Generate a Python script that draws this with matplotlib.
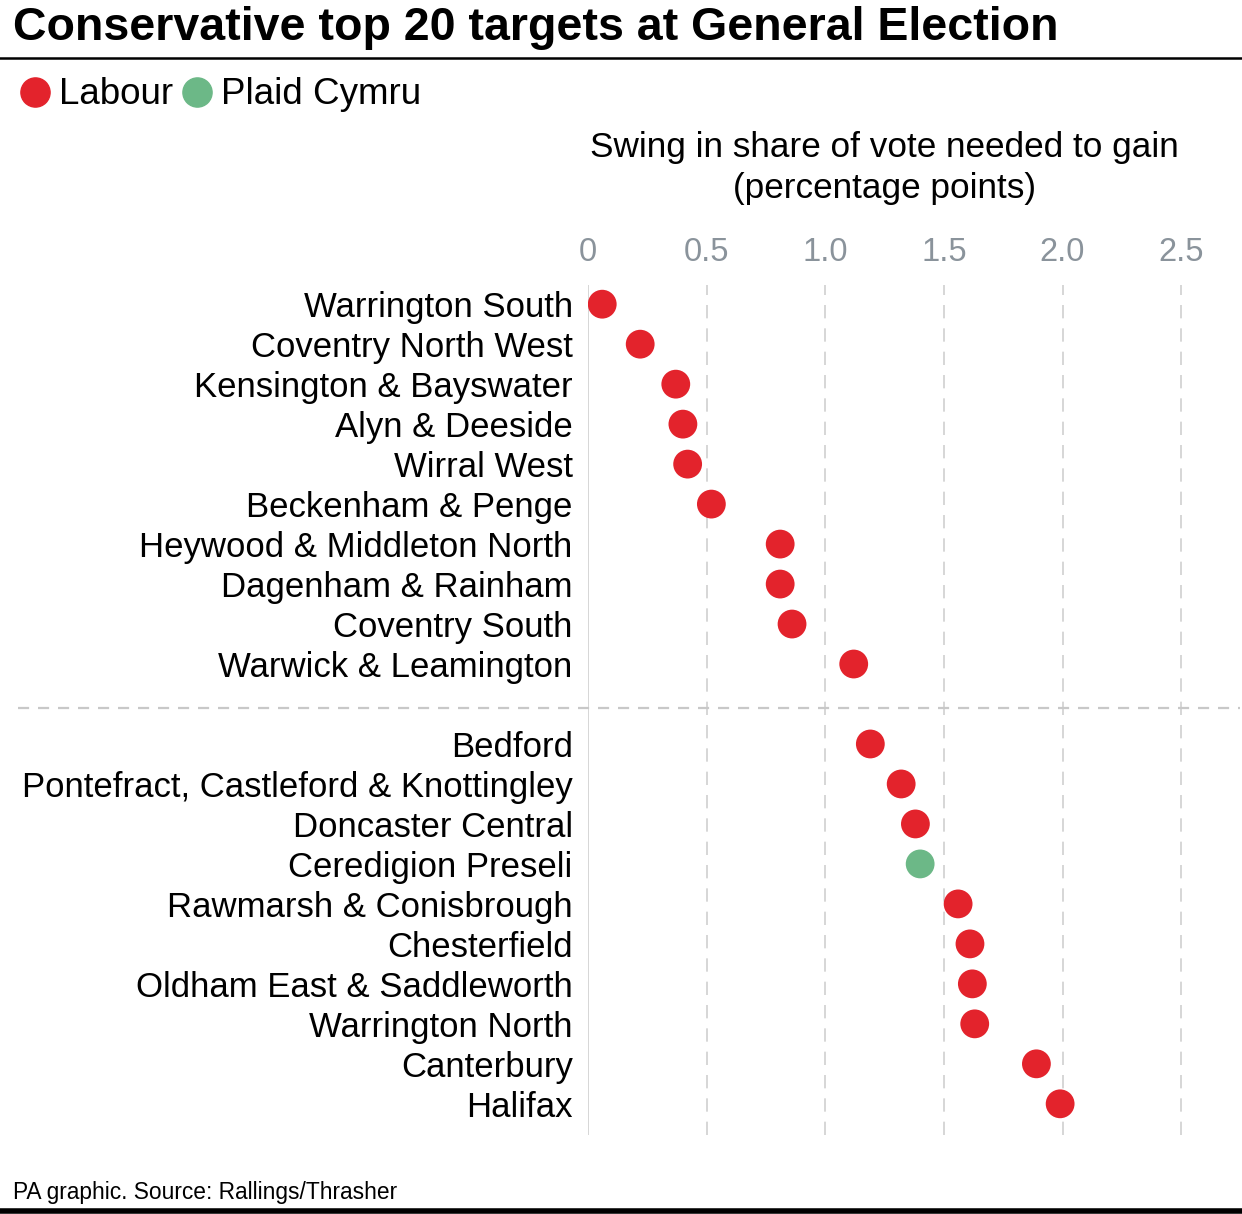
import matplotlib.pyplot as plt
from matplotlib.lines import Line2D
from matplotlib.transforms import blended_transform_factory

plt.rcParams['font.family'] = ['Liberation Sans', 'DejaVu Sans']

# Top 20 Conservative targets, swing needed (percentage points)
seats = [
    "Warrington South", "Coventry North West", "Kensington & Bayswater",
    "Alyn & Deeside", "Wirral West", "Beckenham & Penge",
    "Heywood & Middleton North", "Dagenham & Rainham", "Coventry South",
    "Warwick & Leamington",
    "Bedford", "Pontefract, Castleford & Knottingley", "Doncaster Central",
    "Ceredigion Preseli", "Rawmarsh & Conisbrough", "Chesterfield",
    "Oldham East & Saddleworth", "Warrington North", "Canterbury", "Halifax",
]
swing = [0.06, 0.22, 0.37, 0.40, 0.42, 0.52, 0.81, 0.81, 0.86, 1.12,
         1.19, 1.32, 1.38, 1.40, 1.56, 1.61, 1.62, 1.63, 1.89, 1.99]
party = ["Labour"] * 13 + ["Plaid Cymru"] + ["Labour"] * 6
party_colors = {"Labour": "#e3232c", "Plaid Cymru": "#6cb887"}
ticks = [0, 0.5, 1.0, 1.5, 2.0, 2.5]
tick_labels = ["0", "0.5", "1.0", "1.5", "2.0", "2.5"]

W, H = 1242, 1214
fig = plt.figure(figsize=(W / 100, H / 100), dpi=100)

# axes placed in pixel terms
left, right, top, bottom = 588, 1193, 285, 1135
ax = fig.add_axes([left / W, 1 - bottom / H, (right - left) / W, (bottom - top) / H])

# first ten rows, then a gap row for the separator
ypos = [i if i < 10 else i + 1 for i in range(len(seats))]
colors = [party_colors[p] for p in party]

for t in ticks[1:]:
    ax.axvline(t, color="#d0d0d0", lw=1.2, ls=(0, (8, 6)), zorder=1)
ax.axvline(0, color="#cfcfcf", lw=1.2, zorder=1)

ax.scatter(swing, ypos, s=430, c=colors, edgecolors="none", zorder=3)

ax.set_xlim(0, 2.55)
ax.set_ylim(20.78, -0.48)
ax.set_yticks(ypos)
ax.set_yticklabels(seats, fontsize=25)
ax.set_xticks(ticks)
ax.set_xticklabels(tick_labels, fontsize=23.5, color="#8a939b")
ax.xaxis.tick_top()
ax.tick_params(axis="both", length=0)
ax.tick_params(axis="y", pad=11)
ax.tick_params(axis="x", pad=12)
for s in ax.spines.values():
    s.set_visible(False)

# separator between the two groups, stretching across the figure
tr = blended_transform_factory(fig.transFigure, ax.transData)
fig.add_artist(Line2D([18 / W, 1240 / W], [10.1, 10.1], transform=tr,
                      color="#c8c8c8", lw=1.6, ls=(0, (5, 4))))

# title and rules
fig.text(13 / W, 1 - 28 / H, "Conservative top 20 targets at General Election",
         fontsize=33.5, fontweight="bold", va="center", ha="left")
fig.add_artist(Line2D([0, 1], [1 - 58 / H, 1 - 58 / H], color="black", lw=1.8))
fig.add_artist(Line2D([0, 1], [1 - 1211 / H, 1 - 1211 / H], color="black", lw=4))

# legend
for x0, name in [(35, "Labour"), (197, "Plaid Cymru")]:
    fig.add_artist(Line2D([x0 / W], [1 - 92 / H], marker="o", markersize=21,
                          color=party_colors[name], lw=0))
    fig.text((x0 + 24) / W, 1 - 94 / H, name, fontsize=26.5, va="center", ha="left")

fig.text(884 / W, 1 - 168 / H,
         "Swing in share of vote needed to gain\n(percentage points)",
         fontsize=25.3, ha="center", va="center", linespacing=1.3)

fig.text(13 / W, 1 - 1192 / H, "PA graphic. Source: Rallings/Thrasher",
         fontsize=16.4, va="center", ha="left")

fig.savefig("out.png", dpi=100)
